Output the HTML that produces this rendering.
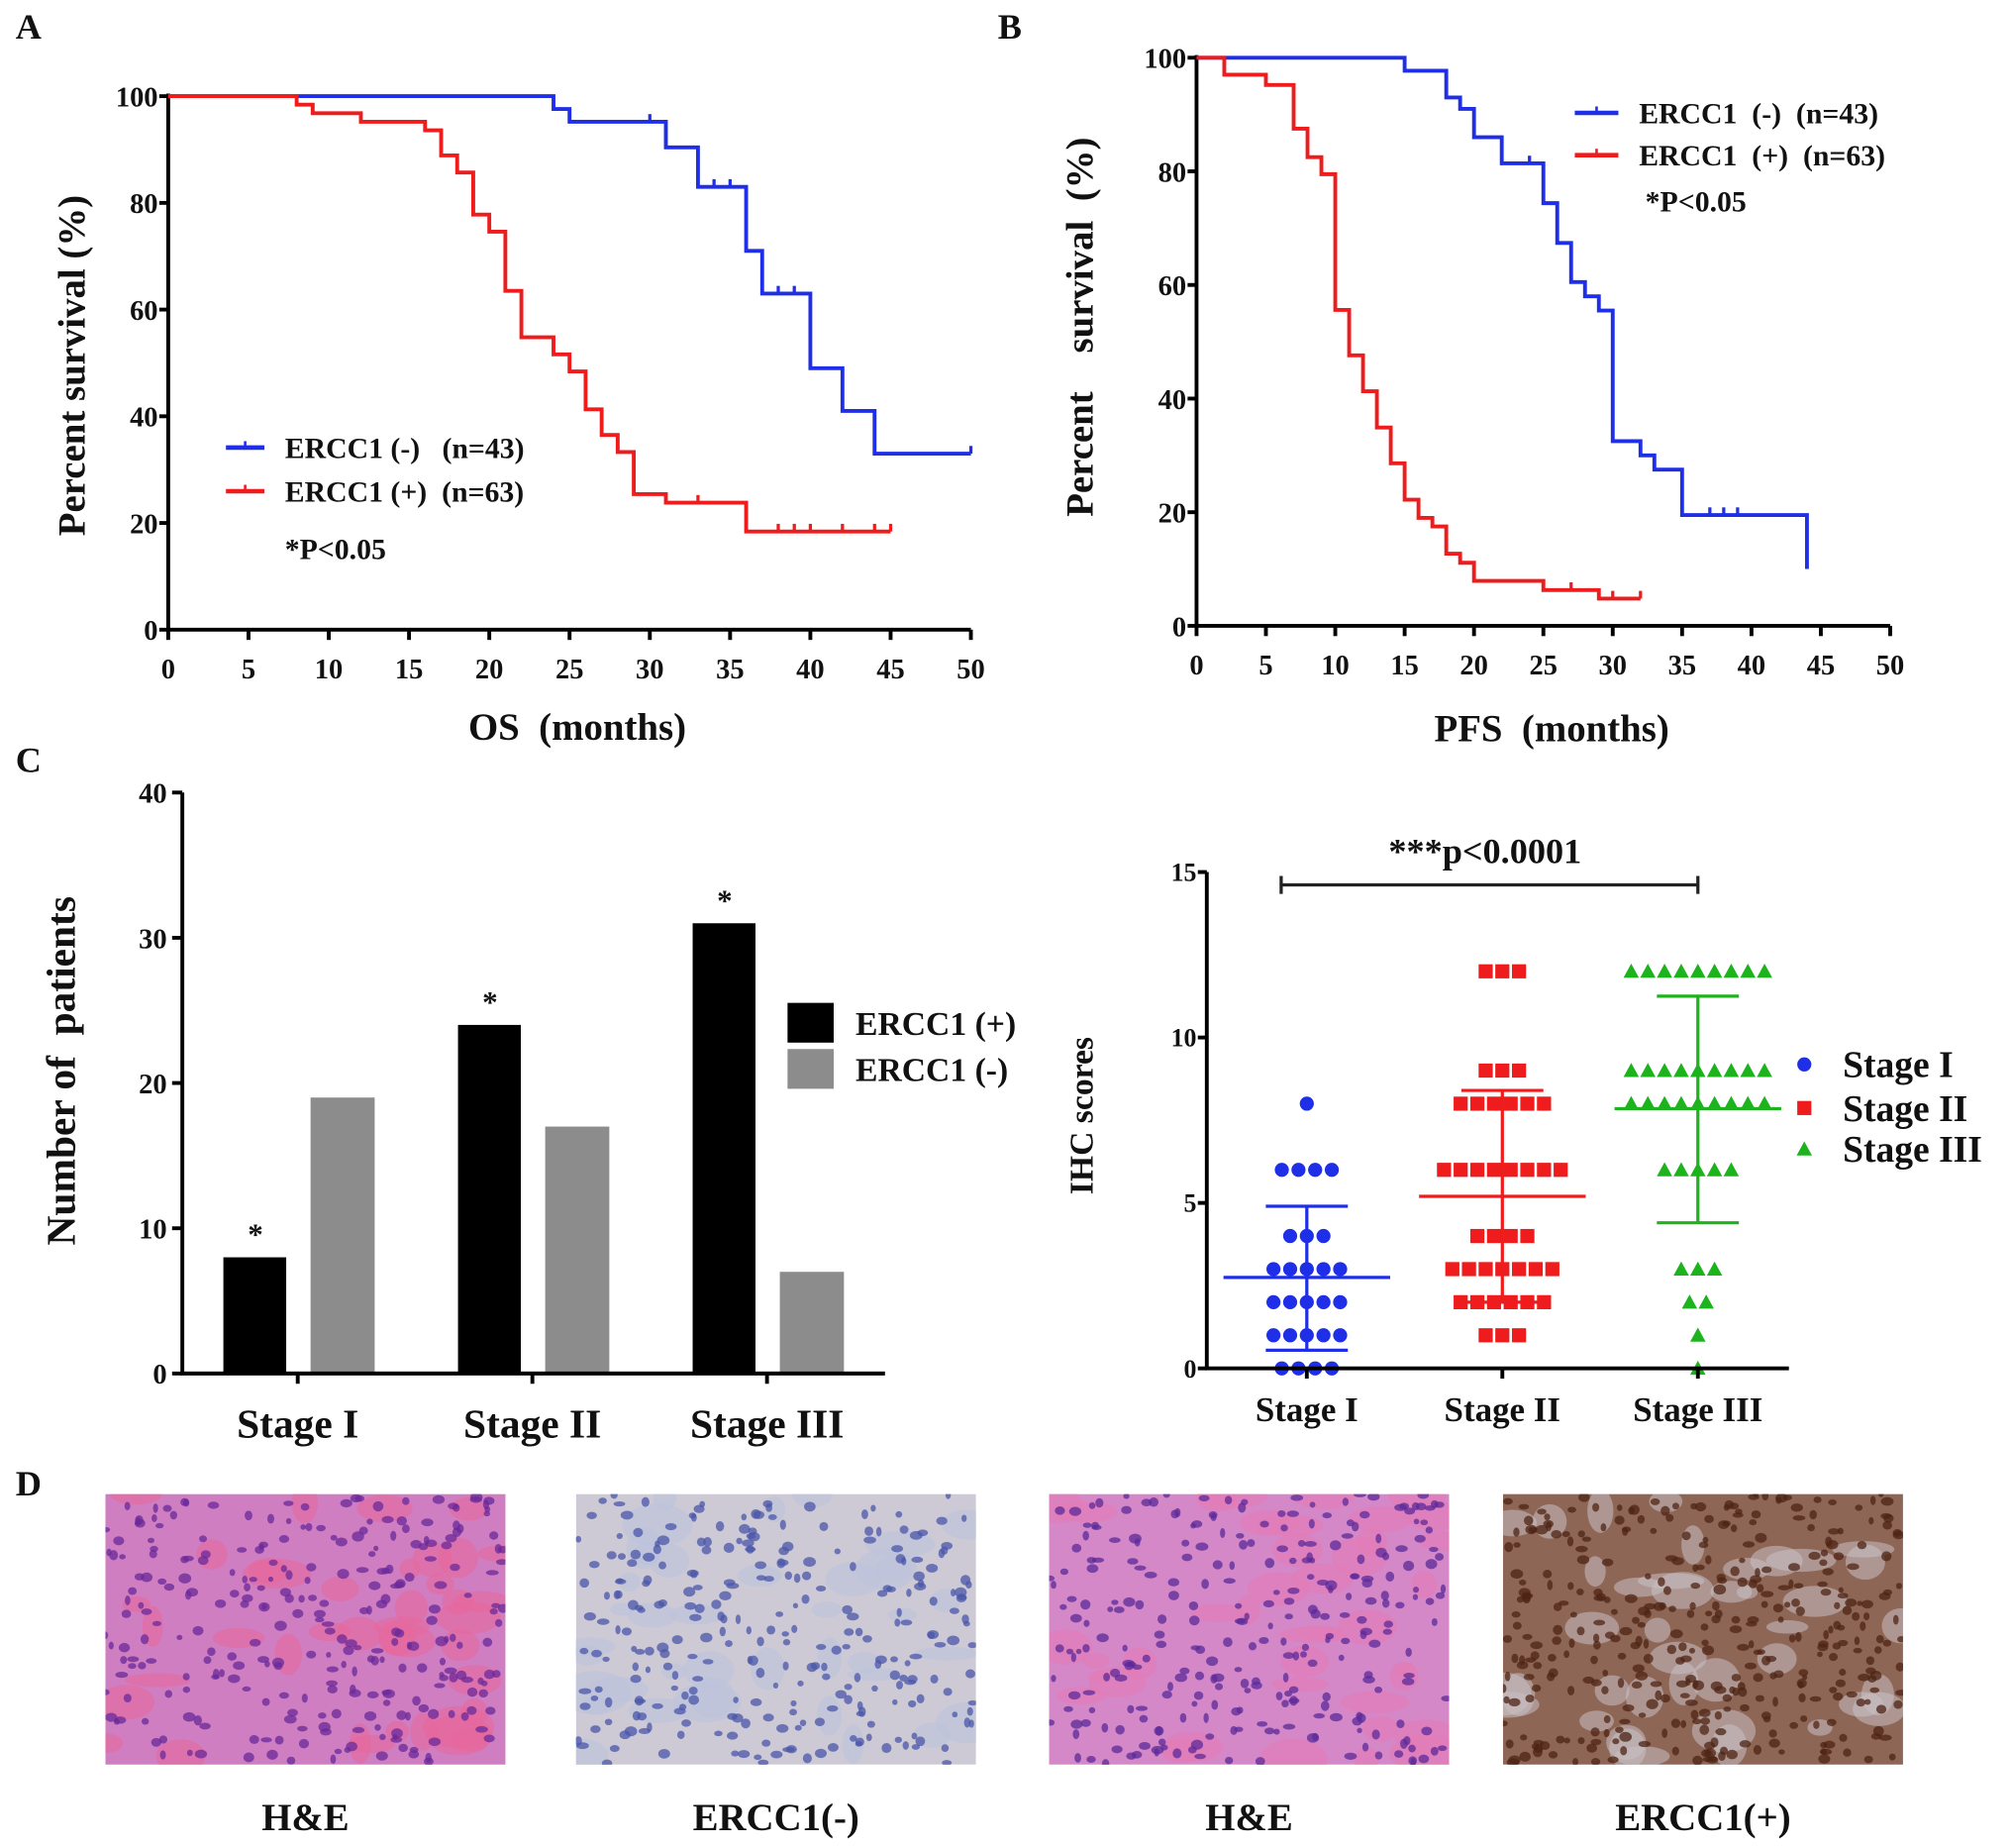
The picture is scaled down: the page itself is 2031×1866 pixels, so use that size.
<!DOCTYPE html>
<html><head><meta charset="utf-8">
<style>
html,body{margin:0;padding:0;background:#fff;}
svg{display:block;}
text{font-family:"Liberation Serif",serif;font-weight:bold;fill:#111;white-space:pre;}
</style></head>
<body>
<svg id="fig" width="2031" height="1866" viewBox="0 0 1568 1441" xmlns="http://www.w3.org/2000/svg">
<g id="gA"></g>
<g id="gB"></g>
<g id="gC"></g>
<g id="gS"></g>
<g id="gD"></g>
</svg>
<script>
// ---- data ----
const osNegTimes=[24,25,31,33,36,37,40,42,44,50];
const osNegSurv=[97.6,95.2,90.4,83,71,63,49,41,33,33];
const osNegCens=[30,34,35,38,39,50];
const osPosTimes=[8,9,12,16,17,18,19,20,21,22,24,25,26,27,28,29,31,36,45];
const osPosSurv=[98.4,96.8,95.2,93.6,88.9,85.7,77.8,74.6,63.5,54.8,51.6,48.4,41.3,36.5,33.3,25.4,23.8,18.4,18.4];
const osPosCens=[33,38,39,40,42,44,45];
const pfsNegTimes=[15,18,19,20,22,25,26,27,28,29,30,32,33,35,44];
const pfsNegSurv=[97.7,93,91,86,81.4,74.4,67.4,60.5,58,55.5,32.5,30,27.5,19.5,10];
const pfsNegCens=[24,37,38,39];
const pfsPosTimes=[2,5,7,8,9,10,11,12,13,14,15,16,17,18,19,20,25,29,32];
const pfsPosSurv=[97,95.2,87.5,82.5,79.5,55.6,47.6,41.3,34.9,28.6,22.2,19,17.5,12.7,11.1,7.9,6.3,4.8,4.8];
const pfsPosCens=[27,30,32];
const kmXTicks=[0,5,10,15,20,25,30,35,40,45,50];
const kmYTicks=[0,20,40,60,80,100];
const barStages=["Stage I","Stage II","Stage III"];
const barPos=[8,24,31];
const barNeg=[19,17,7];
const barYTicks=[0,10,20,30,40];
const ihcStages=["Stage I","Stage II","Stage III"];
const ihcLevels1=[8,6,4,3,2,1,0];
const ihcCounts1=[1,4,3,5,5,5,4];
const ihcLevels2=[12,9,8,6,4,3,2,1];
const ihcCounts2=[3,3,6,8,4,7,6,3];
const ihcLevels3=[12,9,8,6,3,2,1,0];
const ihcCounts3=[9,9,9,5,3,2,1,1];
const ihcMean=[2.75,5.2,7.85];
const ihcLow=[0.55,2.0,4.4];
const ihcHigh=[4.9,8.4,11.25];
const ihcYTicks=[0,5,10,15];

const NS="http://www.w3.org/2000/svg";
function mk(parent,tag,attrs,txt){const e=document.createElementNS(NS,tag);for(const k in attrs)e.setAttribute(k,attrs[k]);if(txt!==undefined)e.textContent=txt;parent.appendChild(e);return e;}

function kmPanel(g,o){
  const sx=v=>o.x0+(o.x1-o.x0)*v/50, sy=v=>o.y0+(o.y1-o.y0)*v/100;
  let t=mk(g,'text',{x:o.lx,y:o.ly,'font-size':28},o.letter);
  
  
  let ax=mk(g,'path',{d:`M${o.x0},${o.y1-2}V${o.y0}H${o.x1}`,stroke:'#000','stroke-width':3,fill:'none'});
  
  
  kmYTicks.forEach(v=>{
    mk(g,'line',{x1:o.x0-7,x2:o.x0,y1:sy(v),y2:sy(v),stroke:'#000','stroke-width':3});
    const tl=mk(g,'text',{x:o.x0-8,y:sy(v)+8,'font-size':22,'text-anchor':'end'},v);
    
    
  });
  kmXTicks.forEach(v=>{
    mk(g,'line',{x1:sx(v),x2:sx(v),y1:o.y0,y2:o.y0+8,stroke:'#000','stroke-width':3});
    const tl=mk(g,'text',{x:sx(v),y:o.y0+38,'font-size':22,'text-anchor':'middle'},v);
    
    
  });
  const xt=mk(g,'text',{x:o.xtx,y:o.xty,'font-size':30,'text-anchor':'middle'},o.xtitle);
  
  
  const yt=mk(g,'text',{x:0,y:0,'font-size':30,'text-anchor':'middle','transform':`translate(${o.ytx},${o.yty}) rotate(-90)`},o.ytitle);
  
  
  o.series.forEach(s=>{
    let d=`M${sx(0)},${sy(100)}`;
    s.t.forEach((tm,i)=>{d+=`H${sx(tm)}V${sy(s.s[i])}`;});
    const p=mk(g,'path',{d:d,stroke:s.c,'stroke-width':3,fill:'none'});
    
    
    s.cens.forEach(c=>{
      let v=100;s.t.forEach((tm,i)=>{if(tm<=c)v=s.s[i];});
      const m=mk(g,'line',{x1:sx(c),x2:sx(c),y1:sy(v),y2:sy(v)-6,stroke:s.c,'stroke-width':2.5});
      
      
    });
  });
  o.legend.forEach((L,i)=>{
    const y=o.legY+i*o.legDy;
    const ln=mk(g,'line',{x1:o.legX,x2:o.legX+o.legW,y1:y,y2:y,stroke:L.c,'stroke-width':3.5});
    
    
    mk(g,'line',{x1:o.legX+o.legW/2,x2:o.legX+o.legW/2,y1:y,y2:y-5,stroke:L.c,'stroke-width':2});
    const lt=mk(g,'text',{x:o.legTx,y:y+8,'font-size':23},L.txt);
    
    
  });
  const pv=mk(g,'text',{x:o.pX,y:o.pY,'font-size':23},'*P<0.05');
  
  
}
kmPanel(document.getElementById('gA'),{letter:'A',lx:12,ly:30,x0:131,x1:757,y0:491,y1:75,xtitle:'OS  (months)',xtx:450,xty:577,ytitle:'Percent survival (%)',ytx:66,yty:285,
 series:[{t:osNegTimes,s:osNegSurv,cens:osNegCens,c:'#1f2fe8',name:'os-ercc1-neg-line'},{t:osPosTimes,s:osPosSurv,cens:osPosCens,c:'#ee1c1c',name:'os-ercc1-pos-line'}],
 legend:[{c:'#1f2fe8',txt:'ERCC1 (-)   (n=43)'},{c:'#ee1c1c',txt:'ERCC1 (+)  (n=63)'}],legX:176,legW:30,legY:349,legDy:34,legTx:222,pX:222,pY:436});
kmPanel(document.getElementById('gB'),{letter:'B',lx:778,ly:30,x0:933,x1:1474,y0:488,y1:45,xtitle:'PFS  (months)',xtx:1210,xty:578,ytitle:'Percent    survival  (%)',ytx:852,yty:255,
 series:[{t:pfsNegTimes,s:pfsNegSurv,cens:pfsNegCens,c:'#1f2fe8',name:'pfs-ercc1-neg-line'},{t:pfsPosTimes,s:pfsPosSurv,cens:pfsPosCens,c:'#ee1c1c',name:'pfs-ercc1-pos-line'}],
 legend:[{c:'#1f2fe8',txt:'ERCC1  (-)  (n=43)'},{c:'#ee1c1c',txt:'ERCC1  (+)  (n=63)'}],legX:1228,legW:34,legY:88,legDy:33,legTx:1278,pX:1283,pY:165});

// ---- Panel C bars ----
(function(){
  const g=document.getElementById('gC');
  const X0=142,X1=690,Y0=1071,Y1=618;
  const sy=v=>Y0+(Y1-Y0)*v/40;
  const gx=i=>232+i*183;
  let t=mk(g,'text',{x:12,y:602,'font-size':28},'C');
  
  
  barPos.forEach((v,i)=>{
    const b=mk(g,'rect',{x:gx(i)-58,y:sy(v),width:49,height:Y0-sy(v),fill:'#000'});
    
    
    const s=mk(g,'text',{x:gx(i)-33,y:sy(v)-10,'font-size':24,'text-anchor':'middle'},'*');
    
    
    const b2=mk(g,'rect',{x:gx(i)+10,y:sy(barNeg[i]),width:50,height:Y0-sy(barNeg[i]),fill:'#8c8c8c'});
    
    
    const xl=mk(g,'text',{x:gx(i),y:1121,'font-size':32,'text-anchor':'middle'},barStages[i]);
    
    
    mk(g,'line',{x1:gx(i),x2:gx(i),y1:Y0,y2:Y0+8,stroke:'#000','stroke-width':3});
  });
  const ax=mk(g,'path',{d:`M${X0},${Y1}V${Y0}H${X1}`,stroke:'#000','stroke-width':3,fill:'none'});
  
  
  barYTicks.forEach(v=>{
    mk(g,'line',{x1:X0-8,x2:X0,y1:sy(v),y2:sy(v),stroke:'#000','stroke-width':3});
    const tl=mk(g,'text',{x:X0-12,y:sy(v)+8,'font-size':22,'text-anchor':'end'},v);
    
    
  });
  const yt=mk(g,'text',{x:0,y:0,'font-size':32,'text-anchor':'middle',transform:'translate(58,835) rotate(-90)'},'Number of  patients');
  
  
  const l1=mk(g,'rect',{x:614,y:782,width:36,height:31,fill:'#000'});
  
  
  const l2=mk(g,'rect',{x:614,y:818,width:36,height:31,fill:'#8c8c8c'});
  
  
  const lt1=mk(g,'text',{x:667,y:807,'font-size':26},'ERCC1 (+)');
  
  
  const lt2=mk(g,'text',{x:667,y:843,'font-size':26},'ERCC1 (-)');
  
  
})();

// ---- IHC scatter ----
(function(){
  const g=document.getElementById('gS');
  const X0=941,X1=1395,Y0=1067,Y1=680;
  const sy=v=>Y0+(Y1-Y0)*v/15;
  const gx=i=>1019+i*152.5;
  const cols=['#1f2fe8','#ee1c1c','#1db31d'];
  const levels=[ihcLevels1,ihcLevels2,ihcLevels3], counts=[ihcCounts1,ihcCounts2,ihcCounts3];
  const sp=13;
  levels.forEach((lv,gi)=>{
    lv.forEach((v,k)=>{
      const n=counts[gi][k];
      for(let j=0;j<n;j++){
        const cx=gx(gi)+(j-(n-1)/2)*sp, cy=sy(v);
        let m;
        if(gi===0) m=mk(g,'circle',{cx:cx,cy:cy,r:5.5,fill:cols[0]});
        else if(gi===1) m=mk(g,'rect',{x:cx-5.5,y:cy-5.5,width:11,height:11,fill:cols[1]});
        else m=mk(g,'path',{d:`M${cx},${cy-6}L${cx+6},${cy+5}L${cx-6},${cy+5}Z`,fill:cols[2]});
        
        
      }
    });
    const c=cols[gi], x=gx(gi);
    const e=mk(g,'path',{d:`M${x-32},${sy(ihcHigh[gi])}H${x+32}M${x},${sy(ihcHigh[gi])}V${sy(ihcLow[gi])}M${x-32},${sy(ihcLow[gi])}H${x+32}M${x-65},${sy(ihcMean[gi])}H${x+65}`,stroke:c,'stroke-width':2.5,fill:'none'});
    
    
    mk(g,'line',{x1:x,x2:x,y1:Y0,y2:Y0+8,stroke:'#000','stroke-width':3});
    const xl=mk(g,'text',{x:x,y:1108,'font-size':27,'text-anchor':'middle'},ihcStages[gi]);
    
    
  });
  const ax=mk(g,'path',{d:`M${X0},${Y1}V${Y0}H${X1}`,stroke:'#000','stroke-width':3,fill:'none'});
  
  
  ihcYTicks.forEach(v=>{
    mk(g,'line',{x1:X0-7,x2:X0,y1:sy(v),y2:sy(v),stroke:'#000','stroke-width':3});
    const tl=mk(g,'text',{x:X0-8,y:sy(v)+7,'font-size':20,'text-anchor':'end'},v);
    
    
  });
  const yt=mk(g,'text',{x:0,y:0,'font-size':26,'text-anchor':'middle',transform:'translate(852,870) rotate(-90)'},'IHC scores');
  
  
  const br=mk(g,'path',{d:'M999,683V697M999,690H1324M1324,683V697',stroke:'#222','stroke-width':2.5,fill:'none'});
  
  
  const st=mk(g,'text',{x:1158,y:673,'font-size':28,'text-anchor':'middle'},'***p<0.0001');
  
  
  const ys=[830,864,896];
  ['Stage I','Stage II','Stage III'].forEach((s,i)=>{
    const y=ys[i],x=1407;let m;
    if(i===0)m=mk(g,'circle',{cx:x,cy:y,r:5.5,fill:cols[0]});
    else if(i===1)m=mk(g,'rect',{x:x-5.5,y:y-5.5,width:11,height:11,fill:cols[1]});
    else m=mk(g,'path',{d:`M${x},${y-6}L${x+6},${y+5}L${x-6},${y+5}Z`,fill:cols[2]});
    
    
    const lt=mk(g,'text',{x:1437,y:y+10,'font-size':29},s);
    
    
  });
})();

// ---- Panel D histology (decorative texture) ----
(function(){
  const g=document.getElementById('gD');
  let t=mk(g,'text',{x:12,y:1166,'font-size':28},'D');
  
  
  const defs=mk(g,'defs',{});
  const imgs=[
    {x:82,bg:'#d07ec2',bg2:'#e8669a',nuc:'#6a2a9a',lab:'H&E',name:'he-image-1'},
    {x:449,bg:'#cdcad6',bg2:'#bcc2dc',nuc:'#4a55a8',lab:'ERCC1(-)',name:'ercc1-neg-image'},
    {x:818,bg:'#d488c8',bg2:'#e37ab5',nuc:'#5c2a9a',lab:'H&E',name:'he-image-2'},
    {x:1172,bg:'#8e6656',bg2:'#c9bfc4',nuc:'#4e2414',lab:'ERCC1(+)',name:'ercc1-pos-image'}];
  let seed=7;const rnd=()=>{seed=(seed*16807)%2147483647;return seed/2147483647;};
  imgs.forEach((im,idx)=>{
    const cp=mk(defs,'clipPath',{id:'cp'+idx});
    mk(cp,'rect',{x:im.x,y:1165,width:312,height:211});
    const gg=mk(g,'g',{'clip-path':`url(#cp${idx})`});
    
    
    mk(gg,'rect',{x:im.x,y:1165,width:312,height:211,fill:im.bg});
    for(let k=0;k<40;k++){mk(gg,'ellipse',{cx:im.x+rnd()*312,cy:1165+rnd()*211,rx:8+rnd()*20,ry:5+rnd()*12,fill:im.bg2,opacity:0.55});}
    const nn=idx===3?380:280;
    for(let k=0;k<nn;k++){mk(gg,'ellipse',{cx:im.x+rnd()*312,cy:1165+rnd()*211,rx:2+rnd()*3,ry:2+rnd()*2,fill:im.nuc,opacity:0.75});}
    const lt=mk(g,'text',{x:im.x+156,y:1427,'font-size':30,'text-anchor':'middle'},im.lab);
    
    
  });
})();
</script>
</body></html>
